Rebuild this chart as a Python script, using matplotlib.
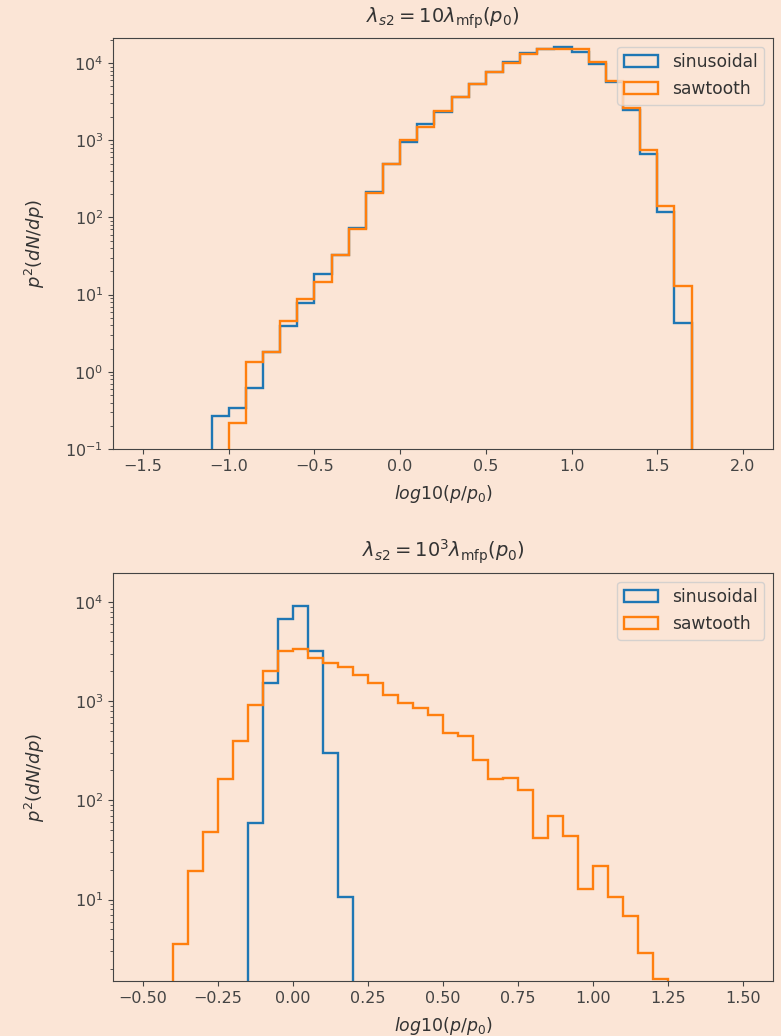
import numpy as np
import matplotlib
matplotlib.use("Agg")
import matplotlib.pyplot as plt

# ---- data ----
top_title = r"$\lambda_{s2} = 10\lambda_{\rm mfp}(p_0)$"
bottom_title = r"$\lambda_{s2} = 10^3\lambda_{\rm mfp}(p_0)$"
xlabel = r"$log10(p/p_0)$"
ylabel = r"$p^2(dN/dp)$"
series_names = ["sinusoidal", "sawtooth"]

top_range = (-1.5, 2.0)
top_nbins = 35
top_sinusoidal = [0, 0, 0, 0,
                  0.27, 0.34, 0.62, 1.82, 3.9, 7.9, 18.5, 33, 74, 211, 492,
                  940, 1607, 2296, 3660, 5350, 7570, 10200, 13350, 15000, 16300,
                  14100, 9700, 5700, 2460, 662, 119, 4.25,
                  0, 0, 0]
top_sawtooth = [0, 0, 0, 0,
                0, 0.22, 1.35, 1.82, 4.6, 8.7, 14.7, 33, 70, 205, 492,
                1007, 1497, 2410, 3660, 5350, 7570, 10000, 13100, 15000, 15300,
                15000, 10200, 5850, 2590, 746, 142, 13.0,
                0, 0, 0]

bot_range = (-0.5, 1.5)
bot_nbins = 40
bot_sinusoidal = [0, 0, 0, 0, 0, 0, 0,
                  59, 1540, 6800, 9050, 3200, 300, 10.5] + [0] * 26
bot_sawtooth = [0, 0,
                3.55, 19.3, 48, 163, 394, 925, 2000, 3200, 3330, 2730, 2420,
                2230, 1825, 1540, 1165, 959, 855, 733, 482, 446, 254, 163, 168,
                128, 42, 70, 43.5, 12.9, 21.8, 10.5, 6.8, 2.92, 1.6,
                0, 0, 0, 0, 0]

# ---- style ----
bg = "#FBE5D6"
colors = ["#1f77b4", "#ff7f0e"]
plt.rcParams.update({
    "figure.facecolor": bg,
    "axes.facecolor": bg,
    "savefig.facecolor": bg,
    "axes.edgecolor": "#444444",
    "xtick.color": "#444444",
    "ytick.color": "#444444",
    "text.color": "#333333",
    "axes.labelcolor": "#333333",
    "font.size": 11.5,
    "xtick.labelsize": 11.5,
    "ytick.labelsize": 11.5,
})

fig = plt.figure(figsize=(7.81, 10.36), dpi=100)
ax1 = fig.add_axes([113 / 781, 1 - 449 / 1036, (773 - 113) / 781, (449 - 38) / 1036])
ax2 = fig.add_axes([113 / 781, 1 - 981 / 1036, (773 - 113) / 781, (981 - 573) / 1036])


def draw(ax, rng, nb, s1, s2, title, ylim):
    edges = np.linspace(rng[0], rng[1], nb + 1)
    centers = 0.5 * (edges[:-1] + edges[1:])
    for vals, name, c in zip([s1, s2], series_names, colors):
        ax.hist(centers, bins=edges, weights=vals, histtype="step",
                log=True, color=c, linewidth=1.7, label=name)
    ax.set_yscale("log", nonpositive="clip")
    width = rng[1] - rng[0]
    ax.set_xlim(rng[0] - 0.05 * width, rng[1] + 0.05 * width)
    ax.set_ylim(*ylim)
    ax.set_title(title, fontsize=14, pad=11)
    ax.set_xlabel(xlabel, fontsize=12.5, labelpad=7)
    ax.set_ylabel(ylabel, fontsize=13)
    ax.yaxis.set_label_coords(-0.1, 0.5)
    ax.legend(loc="upper right", fontsize=12.3)


draw(ax1, top_range, top_nbins, top_sinusoidal, top_sawtooth, top_title,
     (0.1, 10 ** 4.325))
draw(ax2, bot_range, bot_nbins, bot_sinusoidal, bot_sawtooth, bottom_title,
     (10 ** 0.179, 10 ** 4.292))

fig.savefig("out.png", dpi=100)
